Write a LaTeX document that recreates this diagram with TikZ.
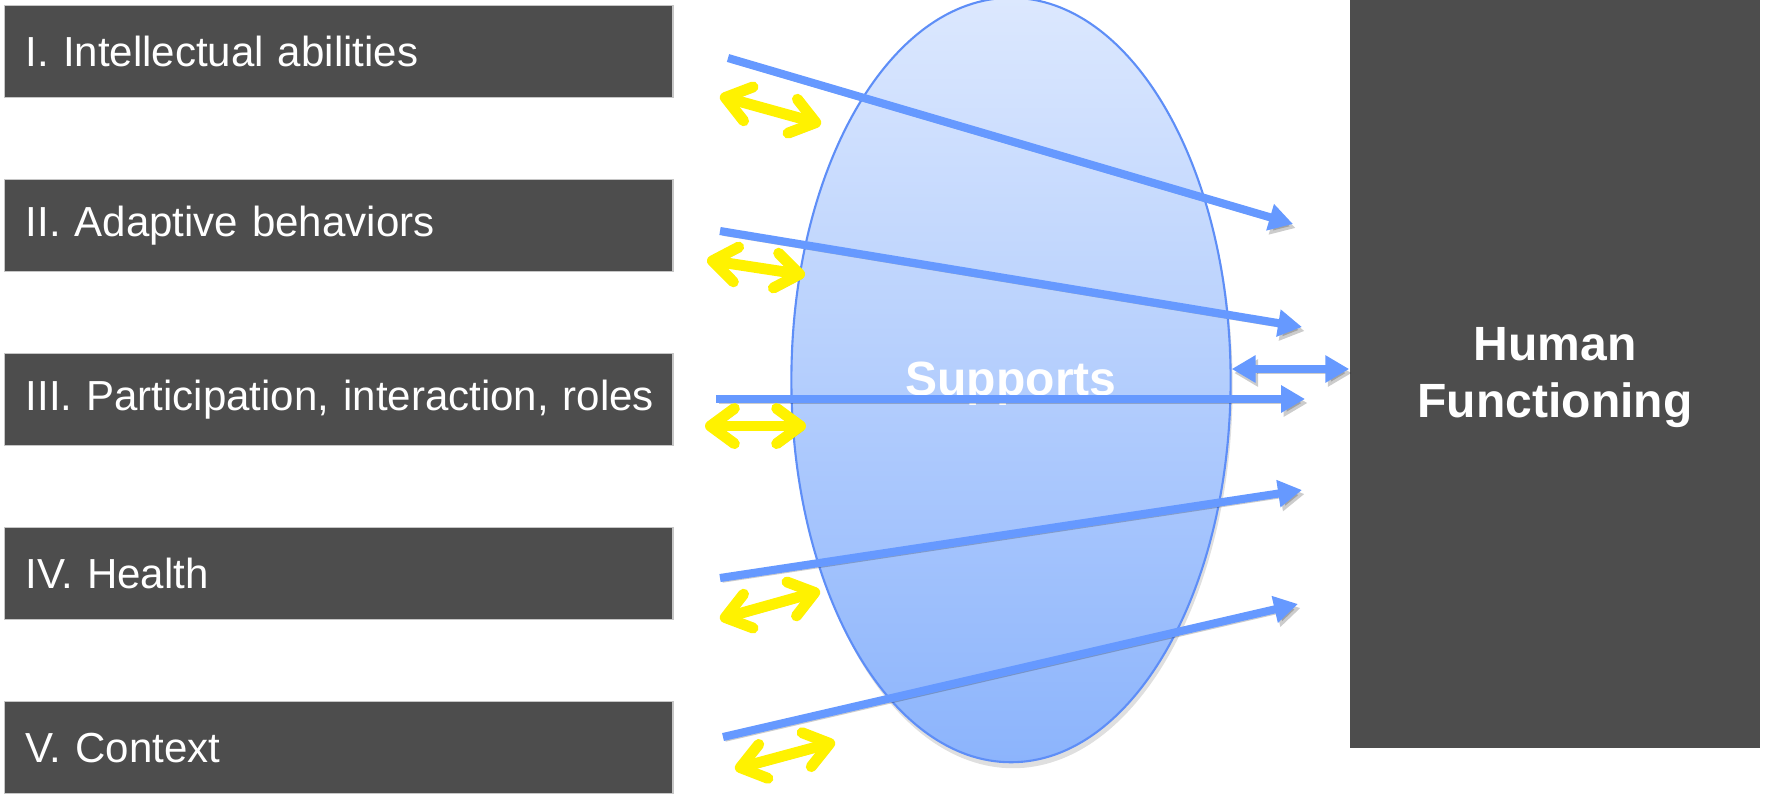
\documentclass[tikz,border=0pt]{standalone}
\usepackage{fontspec}
\setmainfont{Liberation Sans}
\usetikzlibrary{arrows.meta,shapes.geometric,shadows}
\definecolor{boxgray}{RGB}{77,77,77}
\definecolor{arrowblue}{RGB}{102,153,255}
\definecolor{rimblue}{RGB}{94,142,247}
\definecolor{palesky}{RGB}{220,232,254}
\definecolor{deepsky}{RGB}{140,180,252}
\begin{document}
\begin{tikzpicture}[x=0.01cm,y=-0.01cm,
  dimbox/.style={draw=gray!45,line width=0.4pt,fill=boxgray,text=white,anchor=north west,minimum width=6.68cm,minimum height=0.92cm,text width=6.26cm,inner xsep=0.21cm,align=left,font=\fontsize{11.95}{14.4}\selectfont},
  bigfont/.style={font=\bfseries\fontsize{13.66}{16.2}\selectfont},
  soft shade/.style={preaction={draw=black,opacity=0.2,transform canvas={shift={(0.025cm,-0.04cm)}}}},
  link/.style={soft shade,draw=arrowblue,line width=2.3pt,-{Triangle[length=6.8pt,width=7.4pt]}},
  swap/.style={soft shade,draw=yellow,line width=3.1pt,line cap=round,line join=round,{Straight Barb[length=6.8pt,width=10pt,round]}-{Straight Barb[length=6.8pt,width=10pt,round]}}]
  \useasboundingbox (0,0) rectangle (1767,793);
  \node[dimbox] (ia) at (4,5) {I. Intellectual abilities};
  \node[dimbox] (ab) at (4,179) {II. Adaptive behaviors};
  \node[dimbox] (pir) at (4,353) {\mbox{III. Participation, interaction, roles}};
  \node[dimbox] (he) at (4,527) {IV. Health};
  \node[dimbox] (ct) at (4,701) {V. Context};
  \node[fill=boxgray,text=white,minimum width=4.1cm,minimum height=7.48cm,align=center,bigfont] (hf) at (1555,374) {};
  \node[text=white,align=center,bigfont] (hflbl) at (1555,378) {Human\\Functioning};
  \node[ellipse,draw=rimblue,line width=0.6pt,top color=palesky,bottom color=deepsky,minimum width=4.39cm,minimum height=7.64cm,inner sep=0pt,drop shadow={opacity=0.25,shadow xshift=0.02cm,shadow yshift=-0.06cm}] (sup) at (1011,380) {};
  \node[text=white,bigfont,anchor=base] (suplbl) at (1011,395) {Supports};
  \coordinate (ia-out) at (728,58);   \coordinate (ia-in) at (1293,224);
  \coordinate (ab-out) at (720,231);  \coordinate (ab-in) at (1302,327);
  \coordinate (pir-out) at (716,399); \coordinate (pir-in) at (1305,399);
  \coordinate (he-out) at (720,578);  \coordinate (he-in) at (1302,490);
  \coordinate (ct-out) at (723,737);  \coordinate (ct-in) at (1298,604);
  \coordinate (ia-l) at (720,96);   \coordinate (ia-r) at (821,124);
  \coordinate (ab-l) at (707,260);  \coordinate (ab-r) at (805,275);
  \coordinate (pir-l) at (705,426); \coordinate (pir-r) at (806,426);
  \coordinate (he-l) at (720,619);  \coordinate (he-r) at (820,591);
  \coordinate (ct-l) at (735,769);  \coordinate (ct-r) at (835,742);
  \draw[link] (ia-out) -- (ia-in);
  \draw[link] (ab-out) -- (ab-in);
  \draw[link] (pir-out) -- (pir-in);
  \draw[link] (he-out) -- (he-in);
  \draw[link] (ct-out) -- (ct-in);
  \draw[soft shade,draw=arrowblue,line width=2.1pt,{Triangle[length=6.8pt,width=7.4pt]}-{Triangle[length=6.8pt,width=7.4pt]}] (sup.east |- 0,369) -- (hf.west |- 0,369);
  \draw[swap] (ia-l) -- (ia-r);
  \draw[swap] (ab-l) -- (ab-r);
  \draw[swap] (pir-l) -- (pir-r);
  \draw[swap] (he-l) -- (he-r);
  \draw[swap] (ct-l) -- (ct-r);
\end{tikzpicture}
\end{document}
